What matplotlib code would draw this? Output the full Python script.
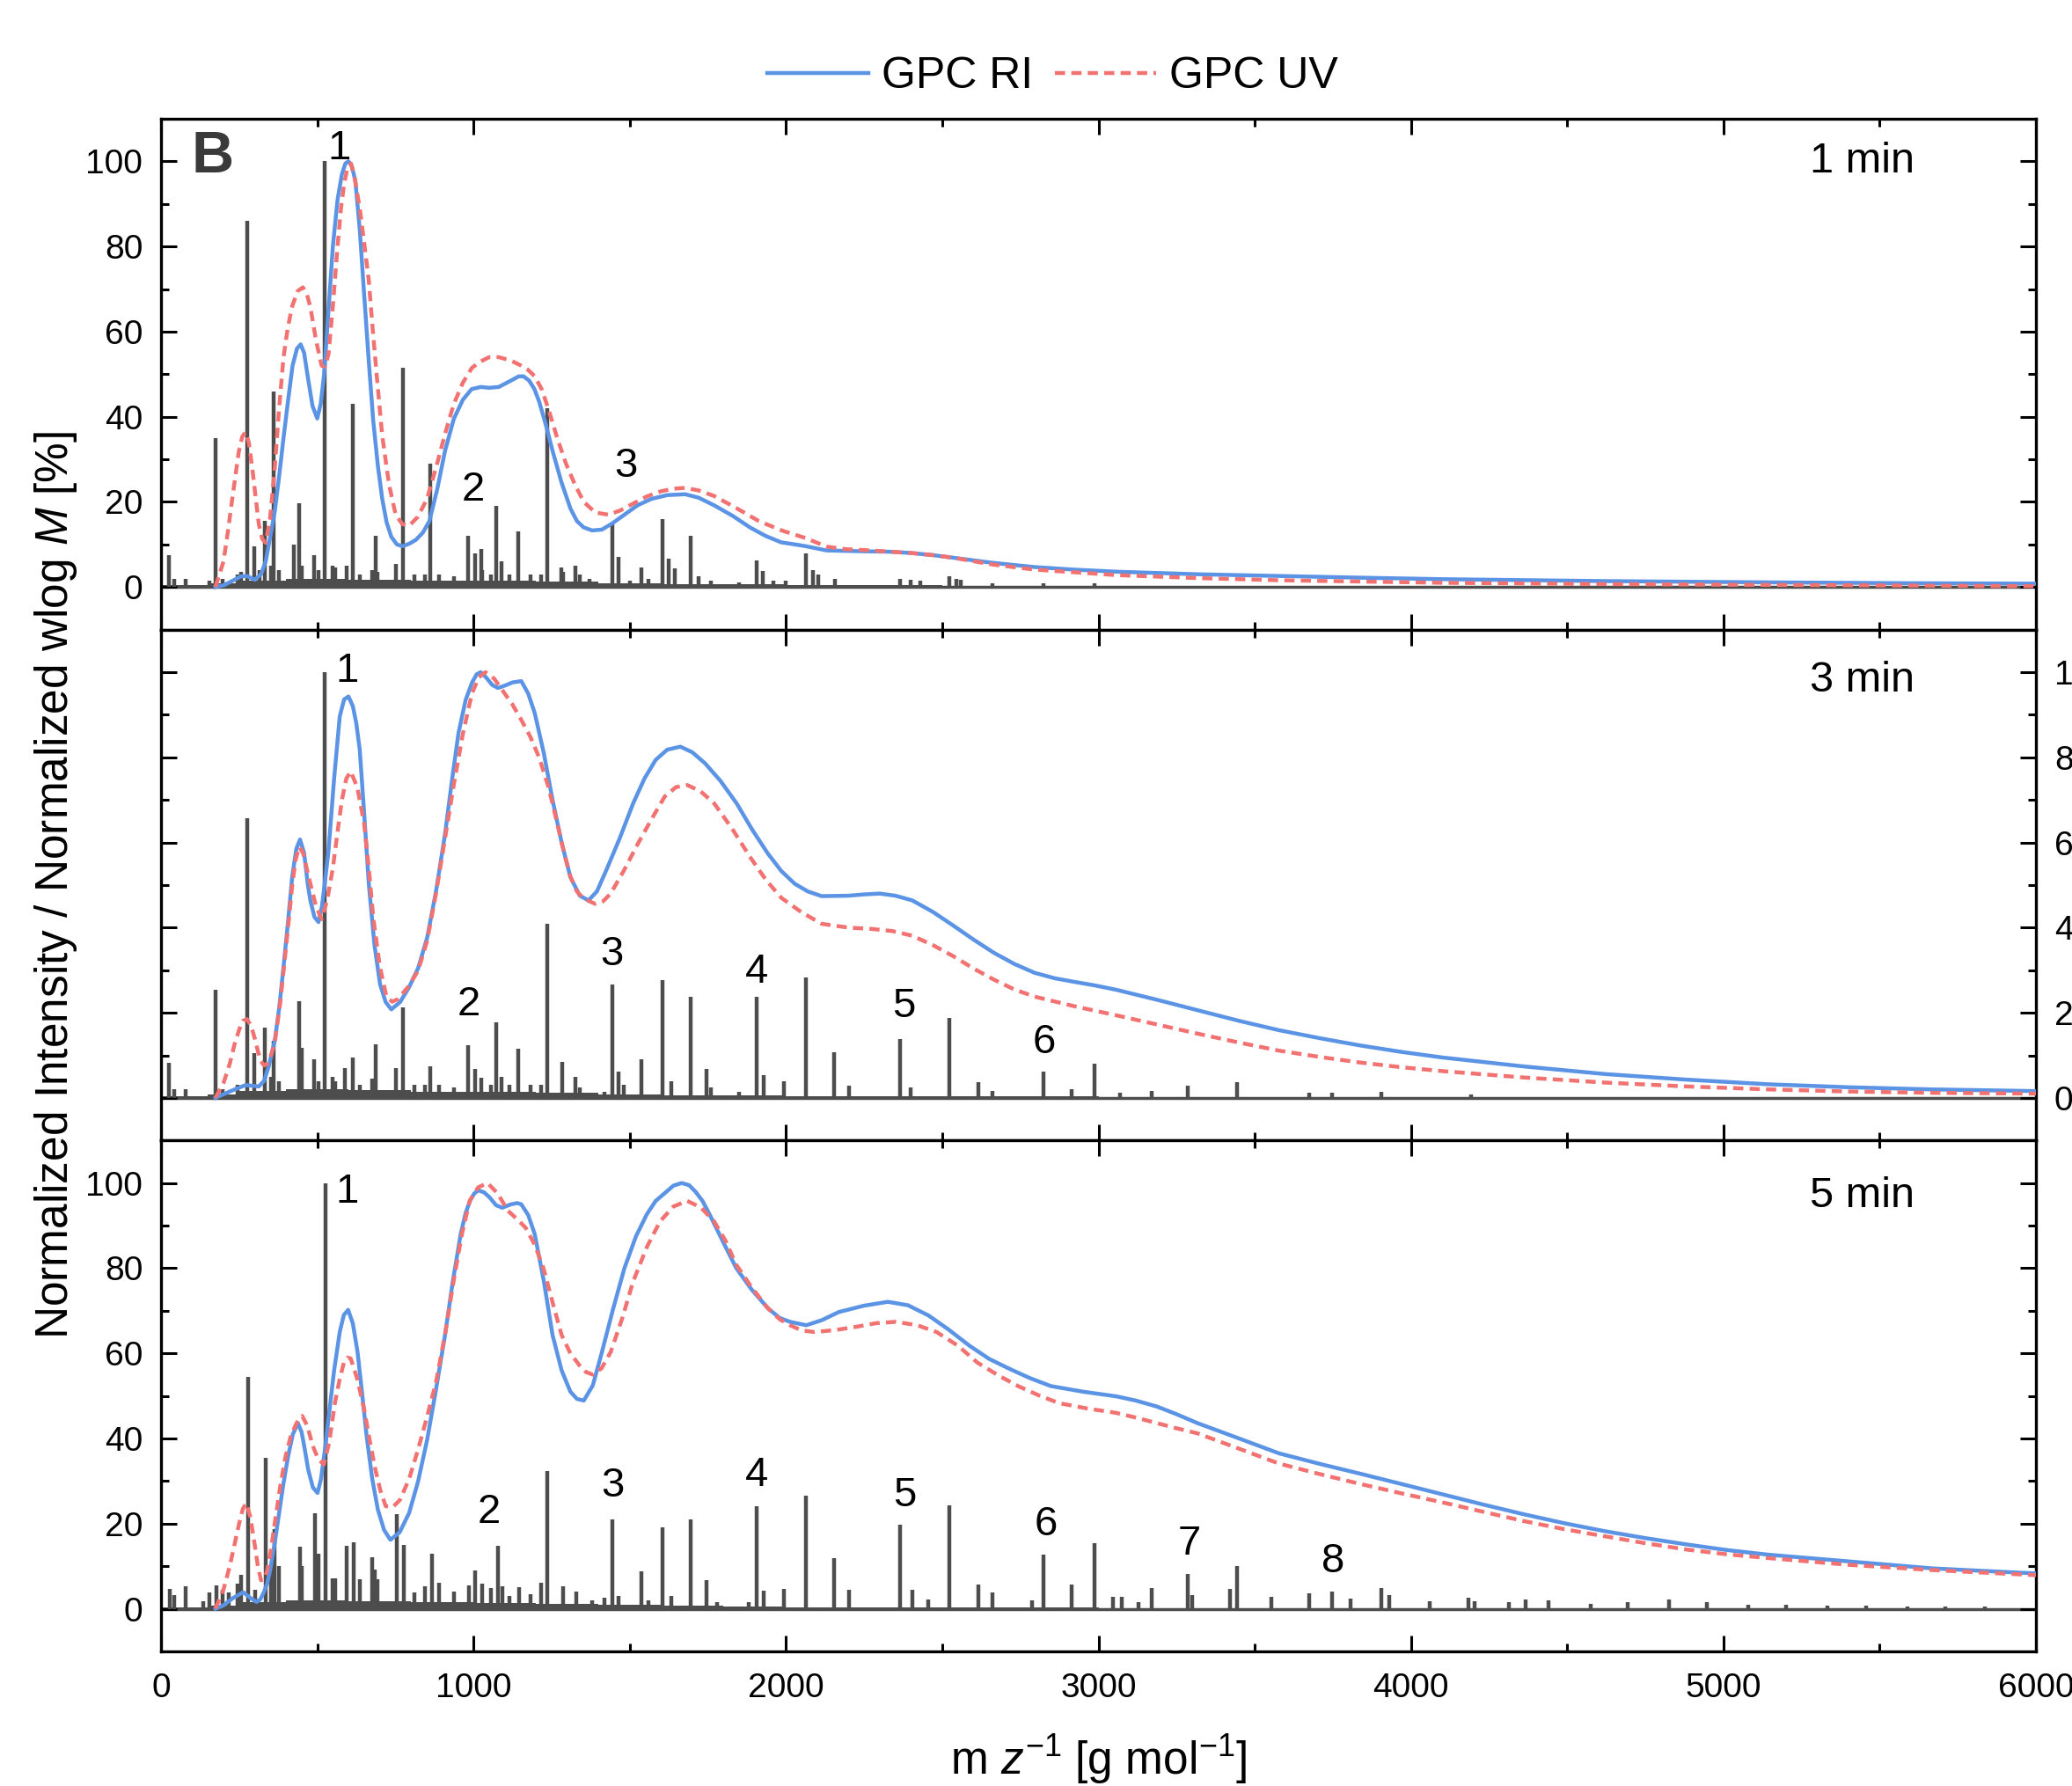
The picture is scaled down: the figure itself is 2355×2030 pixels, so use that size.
import numpy as np
import matplotlib.pyplot as plt
from matplotlib.ticker import MultipleLocator, FixedLocator

plt.rcParams['font.family'] = ['Liberation Sans', 'DejaVu Sans']
plt.rcParams['mathtext.fontset'] = 'custom'
plt.rcParams['mathtext.rm'] = 'Liberation Sans'
plt.rcParams['mathtext.it'] = 'Liberation Sans:italic'

BLUE = '#5B93E5'
RED = '#F27272'
GRAY = '#4D4D4D'

# GPC traces as (m/z, normalized wlog M) pairs
ri_1 = np.array([
    (174, 0), (200, 0.4), (230, 1.5), (255, 2.5), (275, 2.6), (300, 1.7), (320, 3), (335, 6), (350, 12),
    (364, 17.7), (378, 26), (392, 35), (407, 44), (421, 52), (435, 56), (447, 57), (458, 55), (471, 48.8),
    (485, 42.5), (500, 39.6), (511, 43), (522, 50), (536, 65), (550, 80), (565, 91), (579, 97), (590, 99.5),
    (600, 100), (611, 98.8), (622, 95.4), (636, 84), (650, 68.8), (665, 53), (679, 39.2), (694, 28.5),
    (708, 20.7), (722, 15.2), (737, 11.8), (755, 10), (773, 9.6), (795, 10.2), (816, 11.1), (838, 12.8),
    (859, 15.5), (884, 23), (909, 32), (937, 39.5), (966, 44), (994, 46.5), (1023, 47), (1050, 46.8),
    (1081, 47), (1120, 48.5), (1145, 49.5), (1160, 49.5), (1178, 48.5), (1195, 46.5), (1210, 43.6),
    (1232, 38), (1253, 32), (1282, 24.5), (1310, 18.5), (1331, 15.5), (1353, 14), (1380, 13.3),
    (1411, 13.5), (1445, 15), (1483, 17), (1525, 19.2), (1569, 20.7), (1620, 21.6), (1677, 21.8),
    (1720, 21), (1770, 19.2), (1830, 16.7), (1885, 14), (1935, 12), (1985, 10.5), (2030, 10), (2063, 9.6),
    (2130, 8.6), (2250, 8.4), (2330, 8.3), (2400, 8.0), (2470, 7.5), (2534, 6.9), (2660, 5.7), (2795, 4.7),
    (2920, 4.1), (3060, 3.6), (3320, 3.0), (3578, 2.6), (3840, 2.2), (4100, 1.85), (4620, 1.4),
    (5144, 1.1), (5600, 0.9), (6000, 0.8)])
uv_1 = np.array([
    (174, 0), (200, 6), (214, 13), (228, 20.7), (249, 31.8), (260, 35.3), (270, 36.4), (281, 34), (292, 28),
    (303, 21), (313, 14.8), (324, 11.3), (335, 10.4), (349, 16), (364, 28), (378, 42), (392, 54), (406, 61),
    (420, 66), (437, 69.5), (454, 70.4), (466, 69), (478, 65.8), (496, 58), (514, 52), (525, 51.8),
    (536, 54.7), (550, 66), (565, 80), (576, 89), (586, 94.7), (597, 98.6), (608, 99.5), (620, 96),
    (636, 89), (650, 81), (665, 72), (677, 61), (690, 50), (708, 35.5), (730, 24), (751, 17), (772, 14.8),
    (794, 14.4), (822, 16.5), (851, 20.7), (880, 28), (909, 36), (937, 43), (966, 48), (995, 51.5),
    (1023, 53), (1050, 54), (1081, 54), (1120, 53.2), (1153, 52), (1175, 51), (1196, 49.5), (1218, 46.5),
    (1239, 42), (1268, 35), (1296, 29), (1325, 24), (1353, 20), (1390, 17.5), (1432, 17), (1470, 18),
    (1511, 19.6), (1555, 21.3), (1600, 22.5), (1640, 23.1), (1677, 23.3), (1720, 22.7), (1770, 21.4),
    (1840, 18.6), (1913, 15.5), (1990, 13.2), (2063, 11.5), (2130, 9.5), (2190, 8.9), (2250, 8.7),
    (2400, 8), (2470, 7.5), (2534, 6.9), (2660, 5.3), (2795, 4.1), (3060, 2.8), (3320, 2.1), (3578, 1.6),
    (4100, 1.0), (4620, 0.7), (5144, 0.5), (6000, 0.2)])

ri_3 = np.array([
    (174, 0), (220, 1.5), (270, 3), (313, 2.7), (330, 4), (345, 7.5), (364, 13.4), (378, 21), (392, 30.7),
    (406, 41), (420, 52), (433, 58.5), (445, 60.7), (458, 57.5), (470, 50), (478, 46.4), (491, 42.5),
    (504, 41.3), (515, 45), (525, 51), (536, 58), (554, 75), (572, 89.6), (586, 93.6), (600, 94.3),
    (614, 92), (625, 88), (636, 81.8), (650, 67), (665, 50.3), (683, 36), (701, 26.7), (719, 22.5),
    (737, 20.8), (765, 22.5), (794, 26), (823, 30.5), (852, 37.7), (880, 48.5), (909, 62), (931, 74.5),
    (952, 85.7), (975, 93.5), (995, 97.5), (1010, 99.5), (1023, 100), (1040, 98.8), (1060, 97),
    (1078, 96.3), (1095, 96.7), (1125, 97.6), (1153, 97.9), (1175, 95), (1196, 90.4), (1225, 81),
    (1253, 70), (1282, 60), (1310, 51.9), (1340, 47.5), (1368, 46.4), (1395, 48.5), (1425, 53.5),
    (1468, 61), (1511, 69.2), (1547, 75), (1583, 79.4), (1620, 81.8), (1662, 82.5), (1700, 81.2),
    (1741, 78.6), (1790, 74.5), (1842, 69.2), (1892, 63), (1942, 57.4), (1985, 53.3), (2028, 50.3),
    (2070, 48.5), (2114, 47.4), (2200, 47.5), (2250, 47.8), (2300, 48), (2350, 47.5), (2404, 46.4),
    (2470, 43.7), (2535, 40.5), (2600, 37.2), (2665, 34.1), (2730, 31.5), (2795, 29.4), (2860, 28.1),
    (2920, 27.3), (2990, 26.4), (3057, 25.4), (3190, 23), (3317, 20.6), (3450, 18.1), (3578, 15.9),
    (3710, 14), (3839, 12.3), (3970, 10.8), (4100, 9.5), (4360, 7.4), (4622, 5.6), (4880, 4.3),
    (5144, 3.2), (5400, 2.5), (5666, 2), (6000, 1.6)])
uv_3 = np.array([
    (174, 0), (200, 3.5), (220, 8), (235, 12.5), (250, 16), (262, 18.1), (275, 18.5), (288, 17), (300, 14),
    (310, 11), (320, 8.6), (330, 7.6), (340, 8), (352, 10), (364, 13), (381, 22), (399, 34.6), (410, 42.5),
    (420, 50), (431, 56), (442, 59), (455, 57.5), (466, 54), (478, 50.3), (496, 45), (514, 42),
    (532, 46.5), (550, 54), (565, 62.5), (579, 70), (593, 75), (607, 76.7), (628, 73), (650, 64.5),
    (665, 54), (679, 42.5), (700, 31), (722, 23.6), (740, 22.6), (758, 23.2), (790, 26), (823, 29.9),
    (852, 37), (880, 48), (909, 61), (938, 74), (966, 85.5), (995, 95), (1017, 98.8), (1038, 100),
    (1066, 98.5), (1095, 95.5), (1124, 92.5), (1153, 88.8), (1182, 84.8), (1210, 80), (1240, 73),
    (1268, 64.5), (1290, 57.5), (1310, 52), (1331, 48.5), (1353, 46.8), (1389, 45.6), (1415, 46.2),
    (1439, 48), (1482, 53.5), (1526, 59.7), (1570, 65.5), (1612, 70.8), (1648, 73), (1684, 73.5),
    (1727, 72), (1770, 69.2), (1828, 63.2), (1885, 56.6), (1935, 51.3), (1985, 47), (2050, 43.6),
    (2114, 40.9), (2200, 40), (2273, 39.7), (2340, 39.2), (2404, 38.1), (2470, 35.9), (2535, 33.3),
    (2600, 30.4), (2665, 27.8), (2730, 25.5), (2795, 23.8), (2925, 21.5), (3057, 19.4), (3190, 17.2),
    (3317, 15.1), (3450, 13), (3578, 11.1), (3710, 9.6), (3839, 8.3), (3970, 7.2), (4100, 6.3),
    (4360, 4.8), (4622, 3.6), (4880, 2.7), (5144, 2), (5400, 1.5), (5666, 1.2), (6000, 1)])

ri_5 = np.array([
    (174, 0), (200, 0.8), (230, 2.5), (263, 3.9), (285, 2.6), (306, 1.6), (318, 2.2), (330, 4), (340, 6),
    (349, 9), (363, 15), (378, 22.5), (392, 29.5), (407, 35.9), (422, 41), (438, 43.6), (450, 41.5),
    (460, 37.5), (471, 32.7), (486, 28.5), (501, 27.2), (512, 30.5), (524, 37), (536, 44.6), (554, 56),
    (572, 65), (585, 69), (599, 70.2), (614, 67), (629, 60.3), (643, 51), (658, 40.6), (676, 30.5),
    (694, 23.3), (714, 18.5), (734, 16.2), (764, 18), (794, 22.5), (823, 30), (852, 39.8), (880, 51.5),
    (909, 64.3), (934, 77), (959, 88), (975, 93), (990, 96), (1003, 97.6), (1016, 98.3), (1034, 97.8),
    (1052, 96.6), (1072, 94.8), (1092, 94.2), (1120, 95), (1140, 95.3), (1153, 95), (1175, 92.5),
    (1196, 88), (1225, 77), (1253, 64.3), (1282, 56), (1310, 51), (1331, 49.3), (1353, 48.9),
    (1382, 52.5), (1411, 60.3), (1447, 70.5), (1483, 80), (1520, 87.5), (1555, 92.7), (1583, 95.8),
    (1610, 97.5), (1640, 99.4), (1666, 100), (1690, 99.5), (1710, 98), (1733, 95.8), (1755, 92.7),
    (1800, 86), (1841, 80), (1890, 75), (1942, 70.6), (1980, 68.3), (2013, 67.4), (2065, 66.6),
    (2115, 67.8), (2169, 69.7), (2250, 71.2), (2326, 72.1), (2390, 71.3), (2456, 68.9), (2520, 65.6),
    (2587, 61.8), (2650, 58.7), (2717, 56.3), (2780, 54.2), (2848, 52.3), (2950, 51), (3057, 49.9),
    (3120, 48.9), (3187, 47.5), (3250, 45.7), (3317, 43.6), (3450, 40), (3578, 36.5), (3710, 34),
    (3839, 31.7), (3970, 29.3), (4100, 26.9), (4230, 24.5), (4361, 22.2), (4490, 20.1), (4622, 18.2),
    (4750, 16.6), (4883, 15.1), (5010, 13.8), (5144, 12.7), (5405, 11.1), (5666, 9.5), (5830, 8.9),
    (6000, 8.3)])
uv_5 = np.array([
    (174, 0), (200, 4.5), (220, 10), (235, 15), (250, 20), (262, 23.5), (273, 24.8), (286, 21.5),
    (300, 15), (310, 10), (320, 6.7), (330, 6.9), (340, 9), (352, 14), (364, 20.1), (381, 28.5),
    (399, 35.9), (415, 40.5), (430, 43), (441, 44.6), (452, 45.3), (468, 43), (486, 38.2), (503, 35.2),
    (521, 33.9), (538, 39), (557, 48.5), (572, 54), (586, 58), (597, 59), (607, 58.8), (628, 54),
    (650, 46.9), (668, 39.5), (686, 32.7), (702, 27.8), (719, 24.1), (742, 23.9), (765, 25.6),
    (794, 30.5), (823, 37.5), (851, 45), (880, 53.2), (909, 64.5), (938, 77.7), (963, 88), (988, 95.9),
    (1015, 99), (1045, 100), (1078, 97.5), (1110, 93.5), (1140, 91.5), (1167, 89.5), (1196, 85.5),
    (1224, 80), (1253, 72), (1282, 64.3), (1310, 60), (1339, 57.2), (1360, 55.6), (1382, 55),
    (1410, 56.5), (1439, 60.3), (1475, 68), (1511, 76.9), (1555, 85), (1597, 91), (1640, 94.5),
    (1684, 95.8), (1727, 94.3), (1770, 91), (1806, 86.5), (1841, 80.8), (1890, 75.5), (1942, 70.6),
    (1980, 68), (2013, 66.6), (2050, 65.4), (2091, 65), (2160, 65.5), (2222, 66.2), (2290, 67.1),
    (2352, 67.4), (2420, 66.6), (2482, 65), (2550, 61.8), (2613, 57.8), (2680, 54.8), (2743, 52.3),
    (2810, 50.1), (2874, 48.3), (2960, 47.1), (3057, 46), (3120, 44.9), (3187, 43.6), (3250, 42.4),
    (3317, 41.2), (3450, 37.6), (3578, 34.1), (3710, 31.6), (3839, 29.3), (3970, 27.1), (4100, 25),
    (4230, 22.8), (4361, 20.6), (4490, 18.7), (4622, 17), (4750, 15.4), (4883, 13.9), (5010, 12.8),
    (5144, 11.9), (5405, 10.3), (5666, 9.1), (5830, 8.5), (6000, 7.9)])

# mass spectra: peak m/z and normalized intensity
pk_1_mz = [24, 42, 78, 155, 174, 198, 244, 256, 275, 298, 316, 332, 352, 361, 376, 424, 441, 451, 491, 505,
           523, 549, 558, 593, 613, 636, 677, 686, 694, 751, 773, 812, 845, 863, 891, 938, 983, 1005, 1024,
           1027, 1055, 1074, 1090, 1116, 1144, 1182, 1215, 1236, 1282, 1287, 1325, 1340, 1370, 1444, 1465,
           1500, 1536, 1560, 1606, 1626, 1645, 1695, 1720, 1760, 1850, 1906, 1925, 1960, 2000, 2064, 2085,
           2104, 2156, 2365, 2400, 2430, 2524, 2545, 2560, 2660, 2824, 2986]
pk_1 = [7.4, 2, 2, 1.5, 35, 2, 3, 3.5, 86, 9.6, 4, 15.5, 5, 46, 4, 10, 19.6, 5, 7.4, 4,
        100, 5, 4.5, 5, 43, 3, 4, 12, 3.5, 5.5, 51.5, 3, 3, 29, 3, 2.5, 12, 8, 9,
        4, 3, 19, 6, 3, 13, 3, 3, 42, 4.5, 3.5, 5, 3, 2, 15, 7,
        1.5, 4.5, 2, 16, 6.7, 4.4, 12, 2.5, 1.5, 1, 6.3, 3.7, 1.5, 1.5, 8, 4,
        3, 2, 2, 1.8, 1.6, 2.5, 2, 1.8, 0.8, 0.8, 0.8]

pk_3_mz = [24, 42, 78, 174, 198, 244, 275, 298, 332, 352, 361, 376, 441, 450, 491, 505, 523, 549, 558, 588,
           613, 636, 677, 686, 751, 773, 812, 845, 863, 891, 938, 983, 1005, 1024, 1055, 1074, 1090, 1116,
           1144, 1182, 1215, 1236, 1285, 1325, 1340, 1420, 1444, 1465, 1480, 1536, 1606, 1634, 1695, 1745,
           1760, 1850, 1906, 1928, 1994, 2064, 2153, 2203, 2365, 2398, 2524, 2615, 2660, 2824, 2913, 2986,
           3069, 3169, 3286, 3443, 3675, 3748, 3904, 4192]
pk_3 = [8.3, 2, 2, 25.5, 2, 3, 65.6, 10.6, 16.5, 5, 13.4, 4, 22.8, 11.8, 9, 4, 100, 5, 4, 7,
        9.4, 3, 4.5, 12.6, 7, 21.2, 3, 3, 7.5, 3, 2.5, 12.3, 6.9, 4.7, 3, 17.8, 5, 3,
        11.6, 3, 3, 40.9, 8.4, 5, 2.5, 1.5, 26.7, 6.1, 3, 9, 27.7, 4, 23.8, 6.7,
        2.5, 1.5, 23.8, 5.3, 4, 28.3, 10.7, 2.8, 13.9, 2.4, 18.7, 3.6, 1.6, 6.2, 2, 8.1,
        1.2, 1.6, 2.8, 3.6, 1.2, 1.2, 1.4, 0.8]

pk_5_mz = [27, 42, 78, 134, 155, 177, 198, 216, 244, 256, 278, 300, 335, 352, 364, 376, 445, 451, 494, 505,
           526, 549, 558, 593, 616, 636, 677, 685, 694, 755, 777, 812, 845, 866, 891, 938, 985, 1004, 1027,
           1055, 1077, 1093, 1116, 1146, 1182, 1215, 1237, 1287, 1328, 1380, 1420, 1444, 1465, 1536, 1560,
           1606, 1634, 1695, 1745, 1780, 1880, 1906, 1928, 1994, 2065, 2153, 2203, 2365, 2404, 2456, 2524,
           2615, 2660, 2788, 2824, 2913, 2986, 3046, 3074, 3127, 3169, 3286, 3299, 3422, 3443, 3552, 3675,
           3748, 3808, 3904, 3930, 4061, 4184, 4205, 4314, 4367, 4440, 4575, 4693, 4826, 4948, 5079, 5201,
           5332, 5457, 5588, 5710, 5836]
pk_5 = [4.6, 3.3, 5.3, 1.7, 3.9, 5.5, 4.5, 3.8, 5.8, 7.9, 54.5, 4.5, 35.5, 10, 18.8, 10, 14.6, 10, 22.5, 13,
        100, 7.2, 7.2, 14.8, 15.6, 6.9, 12.2, 9.3, 6.9, 22.2, 14.9, 3.8, 5.2, 13, 6.2, 4.1, 5.5, 9.1, 5.8,
        4.8, 14.8, 5.3, 3.1, 5, 3.4, 6.2, 32.3, 5.2, 4.1, 2, 2.5, 20.9, 3, 8.7, 2,
        19.2, 3, 21, 6.7, 1.5, 1.5, 24, 4.3, 4.7, 26.5, 11.9, 4.4, 19.8, 4.4, 2.2, 24.2,
        5.7, 3.8, 2, 12.8, 5.7, 15.5, 2.8, 2.9, 1.6, 4.9, 8.2, 3.2, 4.6, 10, 2.8, 3.6,
        4, 2.4, 4.9, 3.2, 1.7, 2.5, 1.7, 1.6, 2.2, 2, 1.2, 1.6, 2.2, 1.6, 1, 1,
        0.8, 0.8, 0.6, 0.6, 0.6]

# baseline noise band of the mass spectra (step levels)
noise_mz = [0, 150, 250, 400, 600, 800, 1000, 1200, 1400, 1600, 1800, 2000, 2500, 3000, 6000]
noise_lvl = [0.4, 0.8, 1.6, 2.0, 1.8, 1.5, 1.4, 1.2, 0.9, 0.7, 0.6, 0.4, 0.3, 0.2, 0.2]

panels = [
    ('1 min', ri_1, uv_1, pk_1_mz, pk_1),
    ('3 min', ri_3, uv_3, pk_3_mz, pk_3),
    ('5 min', ri_5, uv_5, pk_5_mz, pk_5),
]

# peak-series labels: (text, m/z, y)
series_labels = [
    [('1', 571, 103), ('2', 998, 22.7), ('3', 1488, 28.3)],
    [('1', 596, 100.3), ('2', 985, 21.8), ('3', 1442, 33.6), ('4', 1907, 29.6), ('5', 2376, 21.5),
     ('6', 2825, 13)],
    [('1', 596, 97.8), ('2', 1049, 22.6), ('3', 1446, 28.8), ('4', 1907, 31.3), ('5', 2381, 26.6),
     ('6', 2833, 19.8), ('7', 3290, 15.2), ('8', 3750, 11.1)],
]
label_y = [100, 98, 97]

fig = plt.figure(figsize=(23.55, 20.3), dpi=100)
gs = fig.add_gridspec(3, 1, left=0.0777, right=0.9826, top=0.9335, bottom=0.0754, hspace=0)
axes = [fig.add_subplot(gs[i]) for i in range(3)]

for i, (ax, (name, ri, uv, px, ph)) in enumerate(zip(axes, panels)):
    ax.fill_between(noise_mz, 0, noise_lvl, step='post', color=GRAY, lw=0, zorder=1)
    ax.axhline(0, color=GRAY, lw=2.5, zorder=1)
    ax.vlines(px, 0, ph, color=GRAY, lw=3.2, zorder=2)
    l1, = ax.plot(ri[:, 0], ri[:, 1], color=BLUE, lw=3.2, zorder=3, label='GPC RI')
    l2, = ax.plot(uv[:, 0], uv[:, 1], color=RED, lw=3.2, dashes=(2.6, 1.6), zorder=4, label='GPC UV')

    ax.set_xlim(0, 6000)
    ax.set_ylim(-10, 110)
    ax.xaxis.set_major_locator(MultipleLocator(1000))
    ax.xaxis.set_minor_locator(MultipleLocator(500))
    ax.yaxis.set_major_locator(FixedLocator([0, 20, 40, 60, 80, 100]))
    ax.yaxis.set_minor_locator(FixedLocator([10, 30, 50, 70, 90]))
    ax.tick_params(which='both', direction='in', top=True, right=True, width=2.2, labelsize=28)
    ax.tick_params(which='major', length=13)
    ax.tick_params(which='minor', length=6.5)
    ax.tick_params(axis='y', pad=15)
    ax.tick_params(axis='x', pad=17)
    for s in ax.spines.values():
        s.set_linewidth(2.4)
    if i < 2:
        ax.tick_params(labelbottom=False)
    if i == 1:
        # the reference shows the right-hand labels of this panel running off the page edge
        ax.tick_params(labelleft=False, labelright=True)

    ax.text(5610, label_y[i], name, ha='right', va='center', fontsize=35)
    for t, x, y in series_labels[i]:
        ax.text(x, y, t, ha='center', va='center', fontsize=34)

axes[0].text(165, 101, 'B', ha='center', va='center', fontsize=48, fontweight='bold', color='#3a3a3a')

fig.legend([l1, l2], ['GPC RI', 'GPC UV'], loc='center', bbox_to_anchor=(0.508, 0.957), ncol=2,
           frameon=False, fontsize=36, handlelength=2.3, handletextpad=0.3, columnspacing=0.5)

fig.text(0.0268, 0.5044, r'Normalized Intensity / Normalized wlog $M$ [%]', rotation=90,
         ha='center', va='center', fontsize=37)
fig.text(0.53, 0.0064, r'm $z^{-1}$ [g mol$^{-1}$]', ha='center', va='baseline', fontsize=37)

fig.savefig('out.png', dpi=100)
